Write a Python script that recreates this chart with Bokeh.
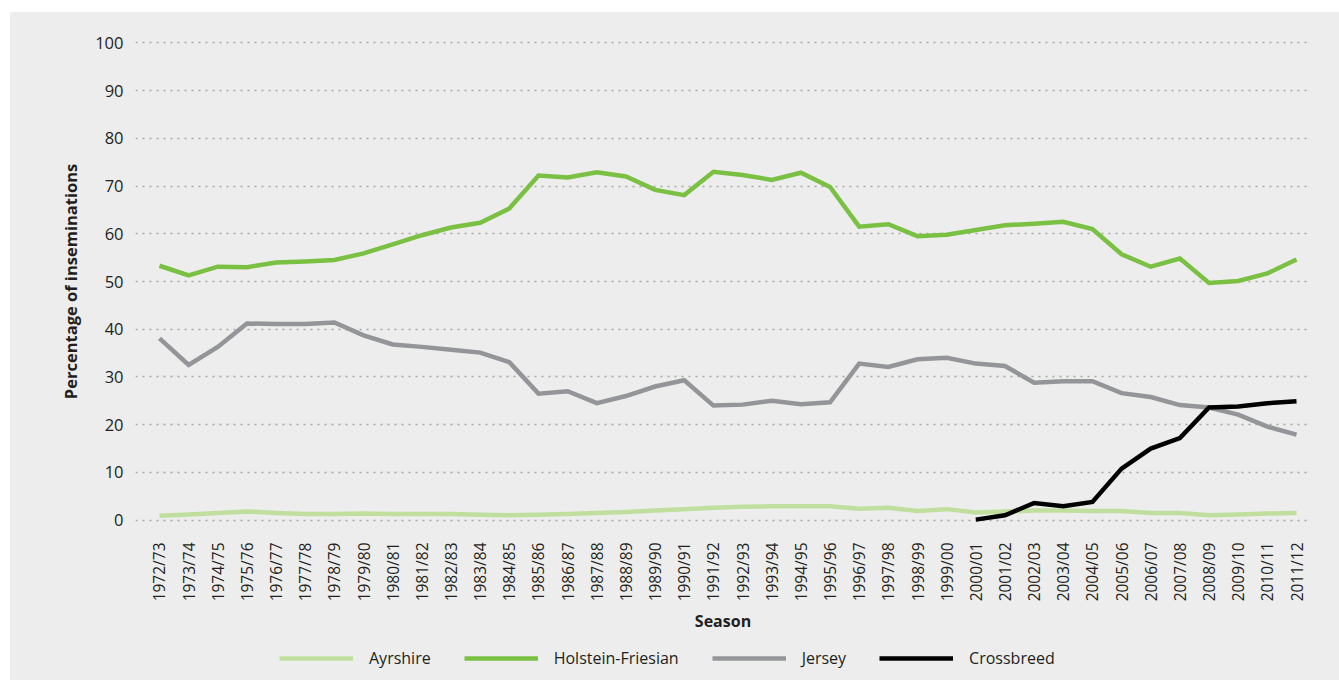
import numpy as np
from bokeh.plotting import figure
from bokeh.layouts import column
from bokeh.models import Range1d, FixedTicker, Legend, LegendItem
from bokeh.embed import file_html
from bokeh.resources import INLINE

seasons = ["1972/73", "1973/74", "1974/75", "1975/76", "1976/77", "1977/78", "1978/79",
           "1979/80", "1980/81", "1981/82", "1982/83", "1983/84", "1984/85", "1985/86",
           "1986/87", "1987/88", "1988/89", "1989/90", "1990/91", "1991/92", "1992/93",
           "1993/94", "1994/95", "1995/96", "1996/97", "1997/98", "1998/99", "1999/00",
           "2000/01", "2001/02", "2002/03", "2003/04", "2004/05", "2005/06", "2006/07",
           "2007/08", "2008/09", "2009/10", "2010/11", "2011/12"]

ayrshire = [0.9, 1.2, 1.5, 1.8, 1.5, 1.3, 1.3, 1.4, 1.3, 1.3, 1.3, 1.1, 1.0, 1.1,
            1.3, 1.5, 1.7, 2.0, 2.3, 2.6, 2.8, 2.9, 2.9, 2.9, 2.4, 2.6, 1.9, 2.3,
            1.6, 1.8, 2.0, 2.0, 1.9, 1.9, 1.5, 1.5, 1.0, 1.2, 1.4, 1.5]

holstein = [53.3, 51.3, 53.1, 53.0, 54.0, 54.2, 54.5, 55.9, 57.8, 59.7, 61.3, 62.3, 65.3, 72.2,
            71.8, 72.9, 72.0, 69.2, 68.1, 73.0, 72.3, 71.3, 72.8, 69.8, 61.5, 62.0, 59.5, 59.8,
            60.8, 61.8, 62.1, 62.5, 61.0, 55.7, 53.1, 54.8, 49.7, 50.1, 51.7, 54.6]

jersey = [38.1, 32.5, 36.3, 41.2, 41.1, 41.1, 41.4, 38.7, 36.8, 36.3, 35.7, 35.1, 33.1, 26.5,
          27.0, 24.5, 26.0, 28.0, 29.3, 24.0, 24.2, 25.0, 24.3, 24.7, 32.8, 32.1, 33.7, 34.0,
          32.8, 32.3, 28.8, 29.1, 29.1, 26.6, 25.8, 24.1, 23.6, 22.1, 19.6, 17.9]

crossbreed = [None] * 28 + [0.1, 1.0, 3.6, 2.9, 3.8, 10.8, 15.0, 17.2, 23.6, 23.8, 24.5, 24.9]

series_names = ["Ayrshire", "Holstein-Friesian", "Jersey", "Crossbreed"]
series_colors = ["#c0df9f", "#7ac143", "#939598", "#000000"]
y_ticks = [0, 10, 20, 30, 40, 50, 60, 70, 80, 90, 100]

x = np.arange(len(seasons))
series = [np.array([np.nan if v is None else v for v in vals], dtype=float)
          for vals in [ayrshire, holstein, jersey, crossbreed]]

BG = "#ededed"
TXT = "#231f20"
FONT = "Open Sans"
LW = 4.5

p = figure(width=1329, height=630, output_backend="svg", toolbar_location=None,
           x_range=Range1d(-0.823, 39.48), y_range=Range1d(-0.5, 100.5),
           min_border_left=125, min_border_right=29, min_border_top=28, min_border_bottom=120)
p.background_fill_color = BG
p.border_fill_color = BG
p.outline_line_color = None

for y, col in zip(series, series_colors):
    p.line(x, y, line_color=col, line_width=LW, line_join="miter")

p.xgrid.grid_line_color = None
p.ygrid.grid_line_color = "#a7a7a7"
p.ygrid.grid_line_width = 1.6
p.ygrid.grid_line_dash = "2 5"
p.ygrid.ticker = FixedTicker(ticks=y_ticks)

xa = p.xaxis[0]
xa.ticker = FixedTicker(ticks=list(x))
xa.major_label_overrides = {int(i): s for i, s in zip(x, seasons)}
xa.major_label_orientation = np.pi / 2
xa.axis_line_color = None
xa.major_tick_line_color = None
xa.minor_tick_line_color = None
xa.major_tick_out = 0
xa.major_tick_in = 0
xa.major_label_standoff = 20
xa.major_label_text_font = FONT
xa.major_label_text_font_size = "15.5px"
xa.major_label_text_color = TXT
xa.axis_label = "Season"
xa.axis_label_text_font = FONT
xa.axis_label_text_font_style = "bold"
xa.axis_label_text_font_size = "16px"
xa.axis_label_text_color = TXT
xa.axis_label_standoff = 6

ya = p.yaxis[0]
ya.ticker = FixedTicker(ticks=y_ticks)
ya.axis_line_color = None
ya.major_tick_line_color = None
ya.minor_tick_line_color = None
ya.major_tick_out = 0
ya.major_tick_in = 0
ya.major_label_standoff = 12
ya.major_label_text_font = FONT
ya.major_label_text_font_size = "16.5px"
ya.major_label_text_color = TXT
ya.axis_label = "Percentage of inseminations"
ya.axis_label_text_font = FONT
ya.axis_label_text_font_style = "bold"
ya.axis_label_text_font_size = "16.5px"
ya.axis_label_text_color = TXT
ya.axis_label_standoff = 10

# legend strip (same series drawn out of view, only their legend entries show)
lg = figure(width=1329, height=38, output_backend="svg", toolbar_location=None,
            x_range=Range1d(-0.823, 39.48), y_range=Range1d(-200, -199),
            min_border_left=125, min_border_right=29, min_border_top=0, min_border_bottom=0)
lg.background_fill_color = BG
lg.border_fill_color = BG
lg.outline_line_color = None
lg.axis.visible = False
lg.grid.visible = False
lg.styles = {"background-color": BG}

items = []
for name, y, col in zip(series_names, series, series_colors):
    r = lg.line(x, y, line_color=col, line_width=LW)
    items.append(LegendItem(label=name, renderers=[r]))

legend = Legend(items=items, orientation="horizontal", location=(144, 11),
                glyph_width=74, glyph_height=20, label_standoff=16, spacing=33,
                padding=0, margin=0, background_fill_alpha=0, border_line_color=None,
                label_text_font=FONT, label_text_font_size="16px", label_text_color=TXT)
lg.add_layout(legend, "center")

layout = column(p, lg, spacing=0)
layout.margin = (12, 0, 0, 10)
layout.styles = {"background-color": BG}

open("out.html", "w").write(file_html(layout, INLINE))
